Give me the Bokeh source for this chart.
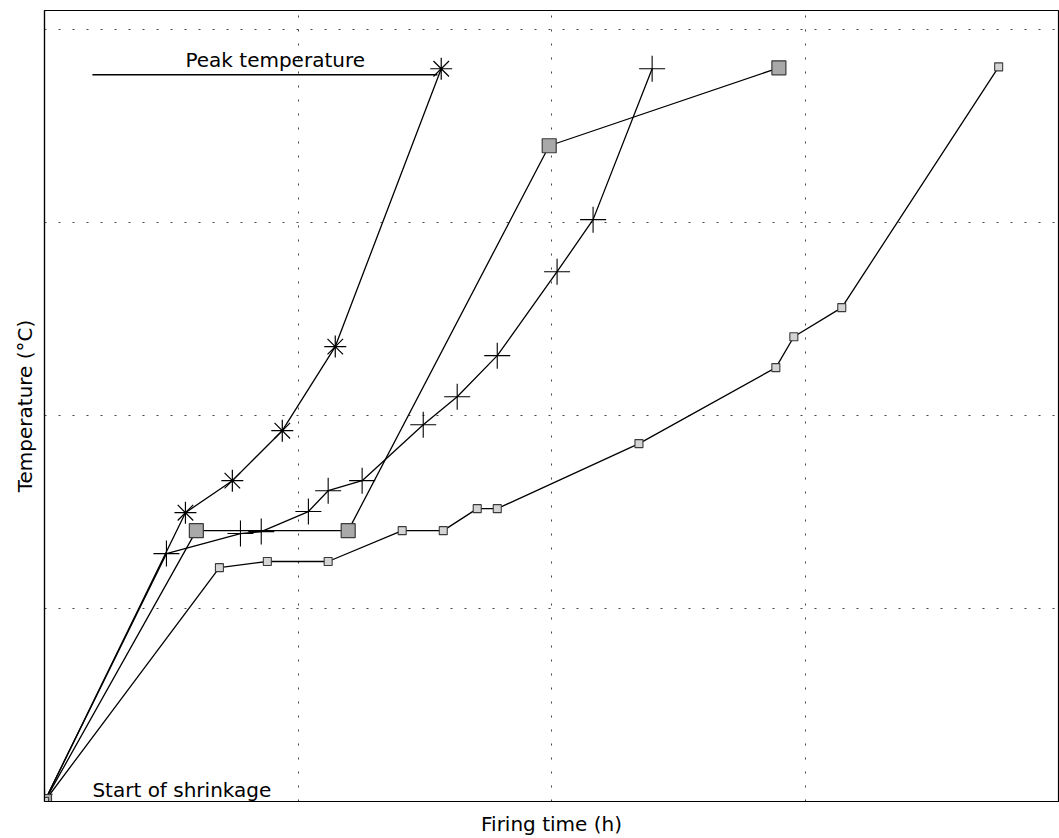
from bokeh.plotting import figure
from bokeh.models import FixedTicker, Range1d, ColumnDataSource
from bokeh.embed import file_html
from bokeh.resources import INLINE
from bokeh.core.properties import value

# Data in grid units (firing time, temperature)
star_t = [0.0, 0.556, 0.741, 0.938, 1.147, 1.565]
star_T = [0.0, 1.497, 1.663, 1.922, 2.358, 3.798]

plus_t = [0.0, 0.481, 0.773, 0.855, 1.041, 1.119, 1.253, 1.494, 1.628, 1.786, 2.022, 2.164, 2.397]
plus_T = [0.0, 1.285, 1.389, 1.399, 1.503, 1.611, 1.663, 1.953, 2.098, 2.311, 2.746, 3.016, 3.798]

bigsq_t = [0.0, 0.599, 1.198, 1.991, 2.897]
bigsq_T = [0.0, 1.404, 1.404, 3.399, 3.803]

smallsq_t = [0.0, 0.690, 0.879, 1.119, 1.411, 1.573, 1.707, 1.786, 2.345, 2.885, 2.956, 3.145, 3.764]
smallsq_T = [0.0, 1.212, 1.244, 1.244, 1.404, 1.404, 1.518, 1.518, 1.855, 2.249, 2.409, 2.560, 3.808]

peak_line_t = [0.189, 1.55]
peak_line_T = [3.767, 3.767]

grid_t = [1, 2, 3]
grid_T = [1, 2, 3, 4]

FONT = "DejaVu Sans"

p = figure(width=1059, height=838, output_backend="svg", toolbar_location=None,
           x_range=Range1d(0, 4), y_range=Range1d(0, 4.1),
           min_border_left=44, min_border_right=1, min_border_top=10, min_border_bottom=37)
p.background_fill_color = "white"
p.border_fill_color = "white"
p.outline_line_color = "black"
p.outline_line_width = 1.2

for ax in (p.xaxis[0], p.yaxis[0]):
    ax.ticker = FixedTicker(ticks=[])
    ax.major_tick_line_color = None
    ax.minor_tick_line_color = None
    ax.major_label_text_font_size = "0px"
    ax.axis_line_color = "black"
    ax.axis_line_width = 1.2
    ax.axis_label_text_font = FONT
    ax.axis_label_text_font_size = "20px"
    ax.axis_label_text_font_style = "normal"
    ax.axis_label_text_color = "black"

p.xaxis.axis_label = "Firing time (h)"
p.yaxis.axis_label = "Temperature (°C)"
p.xaxis.axis_label_standoff = 10
p.yaxis.axis_label_standoff = 8

p.xgrid.ticker = FixedTicker(ticks=grid_t)
p.ygrid.ticker = FixedTicker(ticks=grid_T)
for g in (p.xgrid[0], p.ygrid[0]):
    g.grid_line_color = "#444444"
    g.grid_line_dash = "2 12"
    g.grid_line_width = 1

LW = 1.3
# series lines
p.line(star_t, star_T, line_color="black", line_width=LW)
p.line(plus_t, plus_T, line_color="black", line_width=LW)
p.line(bigsq_t, bigsq_T, line_color="black", line_width=LW)
p.line(smallsq_t, smallsq_T, line_color="black", line_width=LW)
p.line(peak_line_t, peak_line_T, line_color="black", line_width=LW)

# markers
p.scatter(star_t, star_T, marker="asterisk", size=22, line_color="black", line_width=1.2)
p.scatter(plus_t, plus_T, marker="cross", size=26, line_color="black", line_width=1.1)
p.scatter(bigsq_t, bigsq_T, marker="square", size=14, fill_color="#a9a9a9", line_color="#3a3a3a", line_width=1.2)
p.scatter(smallsq_t, smallsq_T, marker="square", size=8, fill_color="#d4d4d4", line_color="#3a3a3a", line_width=1.1)

# annotations
p.text(x=[0.556], y=[3.845], text=["Peak temperature"], text_font=value(FONT),
       text_font_size="20px", text_baseline="alphabetic", text_align="left", text_color="black")
p.text(x=[0.189], y=[0.062], text=["Start of shrinkage"], text_font=value(FONT),
       text_font_size="20px", text_baseline="alphabetic", text_align="left", text_color="black")

open("out.html", "w").write(file_html(p, INLINE))
